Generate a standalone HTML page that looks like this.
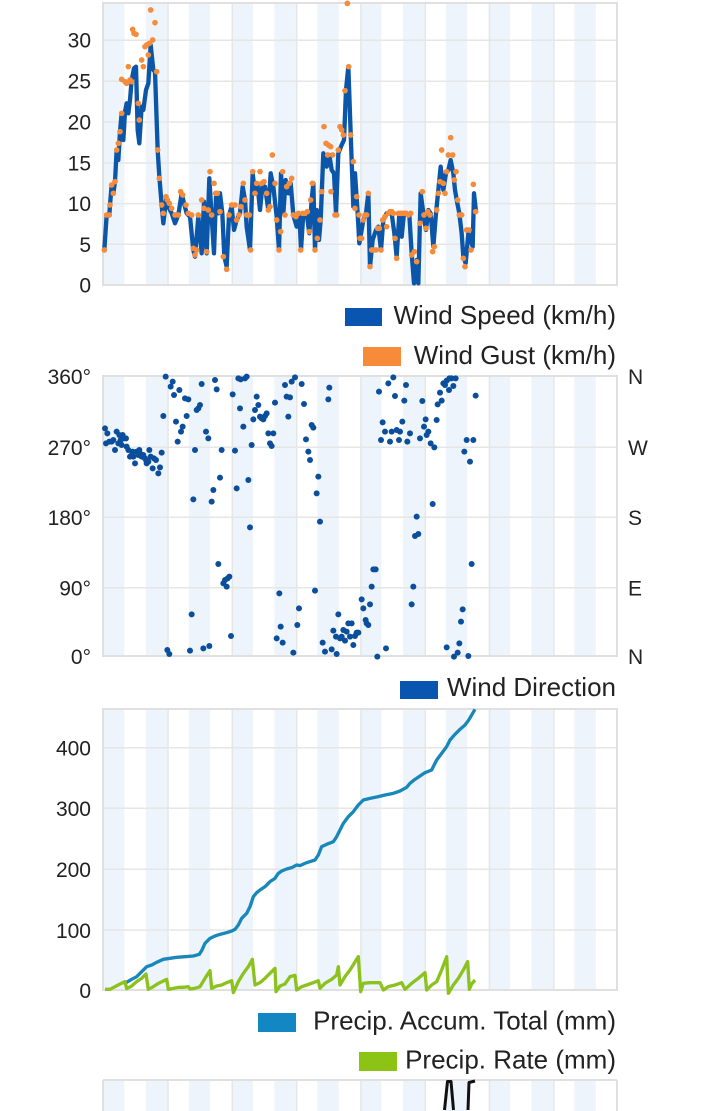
<!DOCTYPE html>
<html><head><meta charset="utf-8"><style>
html,body{margin:0;padding:0;background:#fff;width:720px;height:1111px;overflow:hidden;}
svg{display:block;}
text{font-family:"Liberation Sans",sans-serif;fill:#222;}
.t{font-size:21px;}
.l{font-size:26px;}
</style></head><body>
<svg width="720" height="1111" viewBox="0 0 720 1111" xmlns="http://www.w3.org/2000/svg" style="overflow:hidden">
<defs>
<g id="bands">
<rect x="103" width="21.4" height="290" fill="#edf4fb"/>
<rect x="145.9" width="21.4" height="290" fill="#edf4fb"/>
<rect x="188.7" width="21.4" height="290" fill="#edf4fb"/>
<rect x="231.6" width="21.4" height="290" fill="#edf4fb"/>
<rect x="274.4" width="21.4" height="290" fill="#edf4fb"/>
<rect x="317.3" width="21.4" height="290" fill="#edf4fb"/>
<rect x="360.1" width="21.4" height="290" fill="#edf4fb"/>
<rect x="403" width="21.4" height="290" fill="#edf4fb"/>
<rect x="445.8" width="21.4" height="290" fill="#edf4fb"/>
<rect x="488.7" width="21.4" height="290" fill="#edf4fb"/>
<rect x="531.5" width="21.4" height="290" fill="#edf4fb"/>
<rect x="574.4" width="21.4" height="290" fill="#edf4fb"/>
<g stroke="#e6e6e6" stroke-width="1.5">
<line x1="168" y1="0" x2="168" y2="290"/>
<line x1="232.3" y1="0" x2="232.3" y2="290"/>
<line x1="296.7" y1="0" x2="296.7" y2="290"/>
<line x1="361" y1="0" x2="361" y2="290"/>
<line x1="425.3" y1="0" x2="425.3" y2="290"/>
<line x1="489.5" y1="0" x2="489.5" y2="290"/>
<line x1="553.8" y1="0" x2="553.8" y2="290"/>
</g>
</g>
<clipPath id="c1"><rect x="103" y="3" width="514" height="282"/></clipPath>
<clipPath id="c2"><rect x="103" y="376" width="514" height="280"/></clipPath>
<clipPath id="c3"><rect x="103" y="709" width="514" height="281"/></clipPath>
</defs>

<!-- PLOT 1 -->
<g clip-path="url(#c1)"><use href="#bands" y="3"/></g>
<g stroke="#e6e6e6" stroke-width="1.5">
<line x1="103" y1="40.3" x2="617" y2="40.3"/>
<line x1="103" y1="81.2" x2="617" y2="81.2"/>
<line x1="103" y1="122" x2="617" y2="122"/>
<line x1="103" y1="163" x2="617" y2="163"/>
<line x1="103" y1="203.6" x2="617" y2="203.6"/>
<line x1="103" y1="244.3" x2="617" y2="244.3"/>
</g>
<rect x="103" y="3" width="514" height="282" fill="none" stroke="#e0e0e0" stroke-width="2"/>
<g transform="translate(60,0) scale(0.33333)">
<polyline fill="none" stroke="#0b56a8" stroke-width="13" stroke-linejoin="round" points="133,750 140,645 148,645 150,615 155,555 160,580 165,545 170,450 175,480 180,395 185,340 190,420 195,335 200,310 205,340 210,300 215,240 222,205 228,200 233,390 238,430 245,320 250,330 258,270 265,250 272,135 280,210 285,215 293,450 298,530 305,615 310,670 318,600 325,620 335,640 345,670 355,645 365,580 372,610 380,640 390,650 400,750 405,770 415,650 425,760 432,605 440,760 448,535 455,650 462,760 468,590 475,640 480,580 487,640 493,770 500,800 507,645 515,620 522,690 530,660 540,640 548,560 555,600 560,680 570,750 578,520 585,580 592,550 600,630 607,560 615,560 625,630 632,520 640,560 650,650 657,750 663,520 670,640 677,540 685,580 692,550 700,645 710,680 718,640 723,750 730,640 740,640 748,700 755,600 760,550 765,750 770,630 777,720 782,660 790,460 800,500 808,465 815,510 822,520 828,640 835,460 845,435 852,420 858,270 865,200 872,400 880,620 885,520 893,640 898,730 910,660 918,640 925,580 930,800 938,720 948,690 955,680 963,750 970,660 980,640 988,640 995,640 1003,700 1010,770 1018,640 1025,710 1032,640 1040,640 1048,645 1055,760 1062,850 1070,780 1075,850 1082,580 1090,640 1098,690 1105,630 1112,640 1120,740 1128,640 1135,570 1142,500 1150,570 1158,520 1165,510 1172,480 1180,520 1185,570 1192,610 1198,640 1205,700 1210,770 1217,790 1225,700 1232,720 1238,740 1242,580 1248,635"/>
<g fill="#f58c3b">
<circle cx="133" cy="750" r="8.5"/><circle cx="140" cy="645" r="8.5"/><circle cx="148" cy="645" r="8.5"/><circle cx="150" cy="615" r="8.5"/><circle cx="155" cy="555" r="8.5"/><circle cx="160" cy="580" r="8.5"/><circle cx="165" cy="545" r="8.5"/><circle cx="170" cy="450" r="8.5"/><circle cx="175" cy="430" r="8.5"/><circle cx="180" cy="395" r="8.5"/><circle cx="185" cy="340" r="8.5"/><circle cx="185" cy="238" r="8.5"/><circle cx="195" cy="245" r="8.5"/><circle cx="200" cy="250" r="8.5"/><circle cx="205" cy="200" r="8.5"/><circle cx="210" cy="240" r="8.5"/><circle cx="215" cy="245" r="8.5"/><circle cx="218" cy="88" r="8.5"/><circle cx="222" cy="100" r="8.5"/><circle cx="228" cy="103" r="8.5"/><circle cx="235" cy="310" r="8.5"/><circle cx="238" cy="360" r="8.5"/><circle cx="245" cy="180" r="8.5"/><circle cx="250" cy="200" r="8.5"/><circle cx="255" cy="140" r="8.5"/><circle cx="260" cy="135" r="8.5"/><circle cx="265" cy="165" r="8.5"/><circle cx="268" cy="130" r="8.5"/><circle cx="272" cy="30" r="8.5"/><circle cx="278" cy="120" r="8.5"/><circle cx="285" cy="68" r="8.5"/><circle cx="290" cy="215" r="8.5"/><circle cx="293" cy="450" r="8.5"/><circle cx="298" cy="535" r="8.5"/><circle cx="305" cy="615" r="8.5"/><circle cx="310" cy="640" r="8.5"/><circle cx="318" cy="590" r="8.5"/><circle cx="322" cy="600" r="8.5"/><circle cx="328" cy="610" r="8.5"/><circle cx="335" cy="625" r="8.5"/><circle cx="345" cy="645" r="8.5"/><circle cx="355" cy="645" r="8.5"/><circle cx="362" cy="575" r="8.5"/><circle cx="368" cy="585" r="8.5"/><circle cx="378" cy="615" r="8.5"/><circle cx="385" cy="640" r="8.5"/><circle cx="395" cy="645" r="8.5"/><circle cx="400" cy="745" r="8.5"/><circle cx="405" cy="765" r="8.5"/><circle cx="410" cy="750" r="8.5"/><circle cx="415" cy="645" r="8.5"/><circle cx="425" cy="600" r="8.5"/><circle cx="432" cy="625" r="8.5"/><circle cx="440" cy="755" r="8.5"/><circle cx="445" cy="630" r="8.5"/><circle cx="450" cy="515" r="8.5"/><circle cx="455" cy="645" r="8.5"/><circle cx="462" cy="550" r="8.5"/><circle cx="467" cy="580" r="8.5"/><circle cx="472" cy="580" r="8.5"/><circle cx="480" cy="635" r="8.5"/><circle cx="490" cy="770" r="8.5"/><circle cx="500" cy="808" r="8.5"/><circle cx="507" cy="645" r="8.5"/><circle cx="515" cy="615" r="8.5"/><circle cx="525" cy="615" r="8.5"/><circle cx="530" cy="660" r="8.5"/><circle cx="537" cy="645" r="8.5"/><circle cx="543" cy="620" r="8.5"/><circle cx="550" cy="550" r="8.5"/><circle cx="555" cy="600" r="8.5"/><circle cx="560" cy="645" r="8.5"/><circle cx="568" cy="645" r="8.5"/><circle cx="572" cy="750" r="8.5"/><circle cx="578" cy="515" r="8.5"/><circle cx="585" cy="580" r="8.5"/><circle cx="590" cy="550" r="8.5"/><circle cx="600" cy="515" r="8.5"/><circle cx="605" cy="550" r="8.5"/><circle cx="612" cy="545" r="8.5"/><circle cx="620" cy="580" r="8.5"/><circle cx="625" cy="630" r="8.5"/><circle cx="630" cy="620" r="8.5"/><circle cx="637" cy="465" r="8.5"/><circle cx="645" cy="550" r="8.5"/><circle cx="650" cy="660" r="8.5"/><circle cx="657" cy="750" r="8.5"/><circle cx="662" cy="695" r="8.5"/><circle cx="668" cy="515" r="8.5"/><circle cx="675" cy="645" r="8.5"/><circle cx="680" cy="560" r="8.5"/><circle cx="688" cy="550" r="8.5"/><circle cx="695" cy="535" r="8.5"/><circle cx="700" cy="645" r="8.5"/><circle cx="708" cy="650" r="8.5"/><circle cx="715" cy="640" r="8.5"/><circle cx="722" cy="750" r="8.5"/><circle cx="728" cy="640" r="8.5"/><circle cx="735" cy="640" r="8.5"/><circle cx="742" cy="635" r="8.5"/><circle cx="748" cy="695" r="8.5"/><circle cx="752" cy="600" r="8.5"/><circle cx="757" cy="550" r="8.5"/><circle cx="765" cy="750" r="8.5"/><circle cx="772" cy="715" r="8.5"/><circle cx="780" cy="660" r="8.5"/><circle cx="785" cy="575" r="8.5"/><circle cx="792" cy="380" r="8.5"/><circle cx="798" cy="430" r="8.5"/><circle cx="805" cy="435" r="8.5"/><circle cx="812" cy="440" r="8.5"/><circle cx="803" cy="465" r="8.5"/><circle cx="818" cy="465" r="8.5"/><circle cx="813" cy="575" r="8.5"/><circle cx="825" cy="645" r="8.5"/><circle cx="830" cy="645" r="8.5"/><circle cx="835" cy="450" r="8.5"/><circle cx="840" cy="380" r="8.5"/><circle cx="845" cy="390" r="8.5"/><circle cx="850" cy="405" r="8.5"/><circle cx="855" cy="272" r="8.5"/><circle cx="862" cy="10" r="8.5"/><circle cx="866" cy="200" r="8.5"/><circle cx="872" cy="405" r="8.5"/><circle cx="880" cy="485" r="8.5"/><circle cx="885" cy="625" r="8.5"/><circle cx="890" cy="590" r="8.5"/><circle cx="897" cy="645" r="8.5"/>
<circle cx="900" cy="715" r="8.5"/><circle cx="905" cy="715" r="8.5"/><circle cx="910" cy="660" r="8.5"/><circle cx="915" cy="645" r="8.5"/><circle cx="920" cy="645" r="8.5"/><circle cx="925" cy="580" r="8.5"/><circle cx="930" cy="800" r="8.5"/><circle cx="935" cy="750" r="8.5"/><circle cx="940" cy="750" r="8.5"/><circle cx="948" cy="750" r="8.5"/><circle cx="953" cy="685" r="8.5"/><circle cx="958" cy="685" r="8.5"/><circle cx="963" cy="750" r="8.5"/><circle cx="968" cy="660" r="8.5"/><circle cx="975" cy="650" r="8.5"/><circle cx="980" cy="680" r="8.5"/><circle cx="985" cy="640" r="8.5"/><circle cx="990" cy="635" r="8.5"/><circle cx="995" cy="635" r="8.5"/><circle cx="1000" cy="640" r="8.5"/><circle cx="1005" cy="715" r="8.5"/><circle cx="1010" cy="775" r="8.5"/><circle cx="1015" cy="640" r="8.5"/><circle cx="1022" cy="640" r="8.5"/><circle cx="1028" cy="640" r="8.5"/><circle cx="1033" cy="640" r="8.5"/><circle cx="1038" cy="640" r="8.5"/><circle cx="1045" cy="645" r="8.5"/><circle cx="1052" cy="640" r="8.5"/><circle cx="1055" cy="765" r="8.5"/><circle cx="1063" cy="755" r="8.5"/><circle cx="1070" cy="785" r="8.5"/><circle cx="1080" cy="670" r="8.5"/><circle cx="1087" cy="575" r="8.5"/><circle cx="1092" cy="645" r="8.5"/><circle cx="1098" cy="685" r="8.5"/><circle cx="1103" cy="635" r="8.5"/><circle cx="1110" cy="645" r="8.5"/><circle cx="1118" cy="755" r="8.5"/><circle cx="1123" cy="740" r="8.5"/><circle cx="1130" cy="630" r="8.5"/><circle cx="1135" cy="580" r="8.5"/><circle cx="1140" cy="545" r="8.5"/><circle cx="1145" cy="450" r="8.5"/><circle cx="1150" cy="550" r="8.5"/><circle cx="1155" cy="580" r="8.5"/><circle cx="1160" cy="515" r="8.5"/><circle cx="1165" cy="465" r="8.5"/><circle cx="1172" cy="413" r="8.5"/><circle cx="1178" cy="465" r="8.5"/><circle cx="1183" cy="540" r="8.5"/><circle cx="1188" cy="515" r="8.5"/><circle cx="1193" cy="600" r="8.5"/><circle cx="1198" cy="645" r="8.5"/><circle cx="1205" cy="645" r="8.5"/><circle cx="1210" cy="775" r="8.5"/><circle cx="1215" cy="800" r="8.5"/><circle cx="1220" cy="690" r="8.5"/><circle cx="1227" cy="690" r="8.5"/><circle cx="1233" cy="750" r="8.5"/><circle cx="1240" cy="553" r="8.5"/><circle cx="1247" cy="635" r="8.5"/>
</g>
</g>
<g class="t" text-anchor="end">
<text x="91" y="47.5">30</text><text x="91" y="88.5">25</text><text x="91" y="129.5">20</text><text x="91" y="170.5">15</text><text x="91" y="211">10</text><text x="91" y="252">5</text><text x="91" y="292.5">0</text>
</g>
<rect x="345" y="308" width="37" height="18" fill="#0a55b0"/>
<text class="l" x="616" y="324" text-anchor="end">Wind Speed (km/h)</text>
<rect x="363" y="347" width="38" height="19" fill="#f88b3a"/>
<text class="l" x="616" y="364" text-anchor="end">Wind Gust (km/h)</text>

<!-- PLOT 2 -->
<g clip-path="url(#c2)"><use href="#bands" y="376"/></g>
<g stroke="#e6e6e6" stroke-width="1.5">
<line x1="103" y1="447.3" x2="617" y2="447.3"/>
<line x1="103" y1="517.3" x2="617" y2="517.3"/>
<line x1="103" y1="587.7" x2="617" y2="587.7"/>
</g>
<rect x="103" y="376" width="514" height="280" fill="none" stroke="#e0e0e0" stroke-width="2"/>
<g transform="translate(0,360) scale(0.33333)" fill="#0b4f9c">
<circle cx="315" cy="205" r="9"/><circle cx="322" cy="220" r="9"/><circle cx="318" cy="250" r="9"/><circle cx="328" cy="245" r="9"/><circle cx="335" cy="245" r="9"/><circle cx="340" cy="240" r="9"/><circle cx="345" cy="270" r="9"/><circle cx="350" cy="215" r="9"/><circle cx="355" cy="250" r="9"/><circle cx="358" cy="225" r="9"/><circle cx="362" cy="240" r="9"/><circle cx="365" cy="255" r="9"/><circle cx="368" cy="225" r="9"/><circle cx="372" cy="235" r="9"/><circle cx="378" cy="235" r="9"/><circle cx="380" cy="260" r="9"/><circle cx="385" cy="270" r="9"/><circle cx="390" cy="290" r="9"/><circle cx="395" cy="285" r="9"/><circle cx="398" cy="275" r="9"/><circle cx="400" cy="290" r="9"/><circle cx="405" cy="310" r="9"/><circle cx="410" cy="275" r="9"/><circle cx="415" cy="285" r="9"/><circle cx="418" cy="270" r="9"/><circle cx="420" cy="280" r="9"/><circle cx="425" cy="290" r="9"/><circle cx="430" cy="285" r="9"/><circle cx="435" cy="295" r="9"/><circle cx="438" cy="300" r="9"/><circle cx="440" cy="310" r="9"/><circle cx="445" cy="305" r="9"/><circle cx="448" cy="270" r="9"/><circle cx="452" cy="290" r="9"/><circle cx="458" cy="325" r="9"/><circle cx="462" cy="295" r="9"/><circle cx="468" cy="300" r="9"/><circle cx="475" cy="340" r="9"/><circle cx="480" cy="322" r="9"/><circle cx="485" cy="278" r="9"/><circle cx="490" cy="168" r="9"/><circle cx="497" cy="50" r="9"/><circle cx="502" cy="870" r="9"/><circle cx="508" cy="882" r="9"/><circle cx="512" cy="80" r="9"/><circle cx="518" cy="65" r="9"/><circle cx="522" cy="105" r="9"/><circle cx="528" cy="185" r="9"/><circle cx="533" cy="245" r="9"/><circle cx="538" cy="90" r="9"/><circle cx="543" cy="215" r="9"/><circle cx="548" cy="200" r="9"/><circle cx="555" cy="115" r="9"/><circle cx="560" cy="168" r="9"/><circle cx="565" cy="118" r="9"/><circle cx="570" cy="872" r="9"/><circle cx="575" cy="763" r="9"/><circle cx="580" cy="418" r="9"/><circle cx="585" cy="270" r="9"/><circle cx="590" cy="150" r="9"/><circle cx="595" cy="145" r="9"/><circle cx="600" cy="135" r="9"/><circle cx="605" cy="72" r="9"/><circle cx="610" cy="865" r="9"/><circle cx="618" cy="215" r="9"/><circle cx="625" cy="235" r="9"/><circle cx="628" cy="858" r="9"/><circle cx="635" cy="425" r="9"/><circle cx="640" cy="390" r="9"/><circle cx="645" cy="60" r="9"/><circle cx="650" cy="88" r="9"/><circle cx="655" cy="612" r="9"/><circle cx="660" cy="353" r="9"/><circle cx="665" cy="270" r="9"/><circle cx="670" cy="670" r="9"/><circle cx="675" cy="660" r="9"/><circle cx="680" cy="680" r="9"/><circle cx="683" cy="655" r="9"/><circle cx="688" cy="650" r="9"/><circle cx="693" cy="828" r="9"/><circle cx="698" cy="103" r="9"/><circle cx="705" cy="272" r="9"/><circle cx="710" cy="385" r="9"/><circle cx="715" cy="55" r="9"/><circle cx="720" cy="145" r="9"/><circle cx="722" cy="58" r="9"/><circle cx="730" cy="200" r="9"/><circle cx="735" cy="55" r="9"/><circle cx="740" cy="50" r="9"/><circle cx="745" cy="360" r="9"/><circle cx="750" cy="502" r="9"/><circle cx="755" cy="255" r="9"/><circle cx="760" cy="178" r="9"/><circle cx="765" cy="150" r="9"/><circle cx="770" cy="110" r="9"/><circle cx="775" cy="135" r="9"/><circle cx="780" cy="170" r="9"/><circle cx="785" cy="175" r="9"/><circle cx="790" cy="178" r="9"/><circle cx="795" cy="168" r="9"/><circle cx="800" cy="160" r="9"/><circle cx="805" cy="220" r="9"/><circle cx="810" cy="250" r="9"/><circle cx="815" cy="258" r="9"/><circle cx="820" cy="220" r="9"/><circle cx="825" cy="128" r="9"/><circle cx="830" cy="835" r="9"/><circle cx="838" cy="700" r="9"/><circle cx="842" cy="800" r="9"/><circle cx="848" cy="848" r="9"/><circle cx="855" cy="75" r="9"/><circle cx="860" cy="110" r="9"/><circle cx="865" cy="170" r="9"/><circle cx="870" cy="112" r="9"/><circle cx="875" cy="65" r="9"/><circle cx="880" cy="878" r="9"/><circle cx="885" cy="52" r="9"/><circle cx="892" cy="795" r="9"/><circle cx="897" cy="745" r="9"/>
<circle cx="905" cy="72" r="9"/><circle cx="912" cy="132" r="9"/><circle cx="918" cy="238" r="9"/><circle cx="925" cy="275" r="9"/><circle cx="930" cy="300" r="9"/><circle cx="935" cy="195" r="9"/><circle cx="940" cy="203" r="9"/><circle cx="945" cy="692" r="9"/><circle cx="950" cy="400" r="9"/><circle cx="955" cy="350" r="9"/><circle cx="960" cy="485" r="9"/><circle cx="968" cy="848" r="9"/><circle cx="975" cy="875" r="9"/><circle cx="985" cy="118" r="9"/><circle cx="988" cy="83" r="9"/><circle cx="995" cy="868" r="9"/><circle cx="1000" cy="812" r="9"/><circle cx="1008" cy="830" r="9"/><circle cx="1010" cy="882" r="9"/><circle cx="1015" cy="763" r="9"/><circle cx="1020" cy="835" r="9"/><circle cx="1025" cy="830" r="9"/><circle cx="1030" cy="810" r="9"/><circle cx="1035" cy="842" r="9"/><circle cx="1040" cy="815" r="9"/><circle cx="1045" cy="790" r="9"/><circle cx="1050" cy="830" r="9"/><circle cx="1055" cy="790" r="9"/><circle cx="1060" cy="855" r="9"/><circle cx="1065" cy="828" r="9"/><circle cx="1070" cy="818" r="9"/><circle cx="1075" cy="818" r="9"/><circle cx="1085" cy="718" r="9"/><circle cx="1090" cy="745" r="9"/><circle cx="1097" cy="780" r="9"/><circle cx="1100" cy="790" r="9"/><circle cx="1105" cy="795" r="9"/><circle cx="1110" cy="733" r="9"/><circle cx="1115" cy="680" r="9"/><circle cx="1120" cy="628" r="9"/><circle cx="1127" cy="628" r="9"/><circle cx="1132" cy="890" r="9"/><circle cx="1137" cy="95" r="9"/><circle cx="1148" cy="187" r="9"/><circle cx="1143" cy="240" r="9"/><circle cx="1155" cy="215" r="9"/><circle cx="1158" cy="865" r="9"/><circle cx="1165" cy="70" r="9"/><circle cx="1170" cy="245" r="9"/><circle cx="1175" cy="215" r="9"/><circle cx="1180" cy="52" r="9"/><circle cx="1185" cy="108" r="9"/><circle cx="1190" cy="210" r="9"/><circle cx="1197" cy="240" r="9"/><circle cx="1200" cy="215" r="9"/><circle cx="1207" cy="185" r="9"/><circle cx="1213" cy="122" r="9"/><circle cx="1218" cy="75" r="9"/><circle cx="1222" cy="245" r="9"/><circle cx="1230" cy="220" r="9"/><circle cx="1235" cy="733" r="9"/><circle cx="1240" cy="680" r="9"/><circle cx="1245" cy="528" r="9"/><circle cx="1250" cy="470" r="9"/><circle cx="1255" cy="522" r="9"/><circle cx="1260" cy="235" r="9"/><circle cx="1267" cy="123" r="9"/><circle cx="1272" cy="200" r="9"/><circle cx="1277" cy="178" r="9"/><circle cx="1280" cy="225" r="9"/><circle cx="1285" cy="215" r="9"/><circle cx="1292" cy="250" r="9"/><circle cx="1298" cy="432" r="9"/><circle cx="1303" cy="262" r="9"/><circle cx="1310" cy="180" r="9"/><circle cx="1313" cy="133" r="9"/><circle cx="1320" cy="98" r="9"/><circle cx="1325" cy="122" r="9"/><circle cx="1330" cy="70" r="9"/><circle cx="1335" cy="75" r="9"/><circle cx="1340" cy="62" r="9"/><circle cx="1347" cy="90" r="9"/><circle cx="1348" cy="55" r="9"/><circle cx="1355" cy="55" r="9"/><circle cx="1360" cy="78" r="9"/><circle cx="1367" cy="55" r="9"/><circle cx="1340" cy="862" r="9"/><circle cx="1362" cy="890" r="9"/><circle cx="1373" cy="878" r="9"/><circle cx="1378" cy="850" r="9"/><circle cx="1383" cy="785" r="9"/><circle cx="1388" cy="748" r="9"/><circle cx="1393" cy="275" r="9"/><circle cx="1400" cy="240" r="9"/><circle cx="1405" cy="888" r="9"/><circle cx="1410" cy="305" r="9"/><circle cx="1415" cy="612" r="9"/><circle cx="1420" cy="240" r="9"/><circle cx="1427" cy="107" r="9"/>
</g>
<g class="t" text-anchor="end">
<text x="91" y="384">360°</text><text x="91" y="455">270°</text><text x="91" y="525">180°</text><text x="91" y="595.5">90°</text><text x="91" y="664">0°</text>
</g>
<g class="t">
<text x="628" y="384">N</text><text x="628" y="455">W</text><text x="628" y="525">S</text><text x="628" y="595.5">E</text><text x="628" y="664">N</text>
</g>
<rect x="400" y="681" width="38" height="18" fill="#0a55b0"/>
<text class="l" x="616" y="696" text-anchor="end">Wind Direction</text>

<!-- PLOT 3 -->
<g clip-path="url(#c3)"><use href="#bands" y="709"/></g>
<g stroke="#e6e6e6" stroke-width="1.5">
<line x1="103" y1="747.7" x2="617" y2="747.7"/>
<line x1="103" y1="808.3" x2="617" y2="808.3"/>
<line x1="103" y1="869.3" x2="617" y2="869.3"/>
<line x1="103" y1="930" x2="617" y2="930"/>
</g>
<rect x="103" y="709" width="514" height="281" fill="none" stroke="#e0e0e0" stroke-width="2"/>
<g transform="translate(0,700) scale(0.33333)" fill="none" stroke-linejoin="round" stroke-width="10">
<polyline stroke="#1888bb" points="378,848 395,838 410,830 425,815 440,800 455,795 470,787 490,778 510,775 530,772 555,770 580,768 598,763 605,752 615,730 630,715 645,708 660,703 680,698 695,693 705,688 715,675 725,655 740,640 750,620 760,590 770,578 780,570 795,560 810,545 825,535 835,520 845,513 860,507 875,503 890,495 900,497 920,488 945,480 955,465 965,440 980,433 1000,425 1010,410 1020,390 1030,370 1045,350 1060,335 1075,315 1090,300 1110,295 1135,290 1155,285 1180,280 1200,273 1220,262 1230,250 1245,238 1260,228 1275,218 1295,210 1300,200 1310,180 1325,160 1340,140 1350,120 1365,103 1380,88 1395,75 1405,62 1415,45 1425,28"/>
<polyline stroke="#8cc21e" points="315,868 330,868 345,860 360,852 375,845 380,866 395,858 410,845 425,835 438,822 445,868 460,860 475,850 490,843 500,838 505,868 520,865 535,862 550,862 565,860 570,867 585,865 600,860 615,835 630,812 635,865 650,858 665,855 680,848 695,842 700,878 715,845 730,820 745,800 757,778 765,855 780,848 795,835 810,820 825,805 828,875 840,858 855,852 870,830 885,826 890,870 905,860 920,855 940,848 955,842 960,865 975,850 995,838 1010,825 1015,800 1020,855 1035,830 1050,810 1075,770 1082,875 1090,850 1110,848 1140,848 1150,870 1165,860 1185,855 1205,848 1215,868 1235,850 1255,835 1275,818 1280,870 1295,855 1310,845 1325,810 1340,770 1345,880 1360,855 1375,835 1390,810 1403,785 1408,868 1415,852 1425,840"/>
</g>
<g class="t" text-anchor="end">
<text x="91" y="755.5">400</text><text x="91" y="816">300</text><text x="91" y="877">200</text><text x="91" y="938">100</text><text x="91" y="998">0</text>
</g>
<rect x="258" y="1013" width="38" height="19" fill="#1287c4"/>
<text class="l" x="616" y="1029.5" text-anchor="end">Precip. Accum. Total (mm)</text>
<rect x="359" y="1052" width="38" height="19" fill="#8bc414"/>
<text class="l" x="616" y="1068.5" text-anchor="end">Precip. Rate (mm)</text>

<!-- PLOT 4 (partial, ends at frame bottom) -->
<g fill="#edf4fb">
<rect x="103" y="1080" width="21.4" height="31"/>
<rect x="145.9" y="1080" width="21.4" height="31"/>
<rect x="188.7" y="1080" width="21.4" height="31"/>
<rect x="231.6" y="1080" width="21.4" height="31"/>
<rect x="274.4" y="1080" width="21.4" height="31"/>
<rect x="317.3" y="1080" width="21.4" height="31"/>
<rect x="360.1" y="1080" width="21.4" height="31"/>
<rect x="403" y="1080" width="21.4" height="31"/>
<rect x="445.8" y="1080" width="21.4" height="31"/>
<rect x="488.7" y="1080" width="21.4" height="31"/>
<rect x="531.5" y="1080" width="21.4" height="31"/>
<rect x="574.4" y="1080" width="21.4" height="31"/>
</g>
<g stroke="#e6e6e6" stroke-width="1.5">
<line x1="168" y1="1080" x2="168" y2="1111"/>
<line x1="232.3" y1="1080" x2="232.3" y2="1111"/>
<line x1="296.7" y1="1080" x2="296.7" y2="1111"/>
<line x1="361" y1="1080" x2="361" y2="1111"/>
<line x1="425.3" y1="1080" x2="425.3" y2="1111"/>
<line x1="489.5" y1="1080" x2="489.5" y2="1111"/>
<line x1="553.8" y1="1080" x2="553.8" y2="1111"/>
</g>
<g stroke="#e0e0e0" stroke-width="2">
<line x1="103" y1="1080" x2="617" y2="1080"/>
<line x1="103" y1="1080" x2="103" y2="1111"/>
<line x1="617" y1="1080" x2="617" y2="1111"/>
</g>
<g fill="none" stroke="#111" stroke-width="3" stroke-linejoin="round">
<polyline points="444.5,1110 447.5,1081.5 451,1081.5 453.5,1110"/>
<polyline points="468,1110 469,1082.5 475,1081"/>
</g>
</svg>
</body></html>
